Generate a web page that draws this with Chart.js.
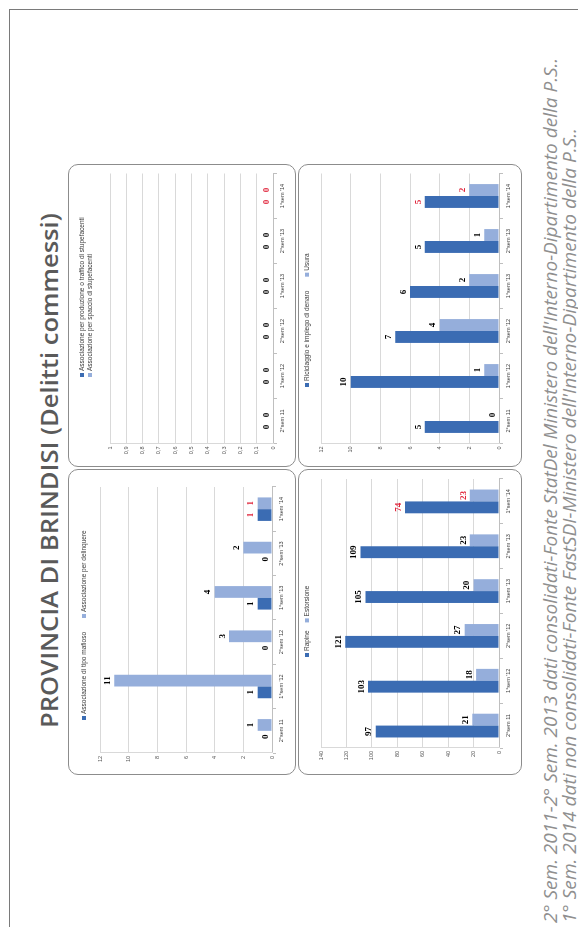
<!DOCTYPE html>
<html>
<head>
<meta charset="utf-8">
<title>Provincia di Brindisi - Delitti commessi</title>
<script src="https://cdn.jsdelivr.net/npm/chart.js"></script>
<style>
  html, body { margin: 0; padding: 0; background: #fff; overflow: hidden; }
  body { width: 578px; height: 927px; position: relative; }
  /* page is laid out landscape, then turned like the scanned sheet */
  #page { position: absolute; left: 0; top: 0; width: 927px; height: 578px;
          transform-origin: 0 0; transform: translate(0, 927px) rotate(-90deg); }
  .frame { position: absolute; left: 0; top: 9px; width: 917px; height: 600px;
           border-top: 1.5px solid #7a7a7a; border-right: 1.5px solid #7a7a7a; }
  .panel { position: absolute; }
  .panel canvas { position: absolute; left: 0; top: 0; }
  .panel .box { position: absolute; left: 0; top: 0; right: 0; bottom: 0; box-sizing: border-box;
                border: 1.5px solid #8c8c8c; border-radius: 10px; }
  .txt { position: absolute; white-space: nowrap; transform-origin: 0 0; line-height: 1; }
  #title { left: 199px; top: 33px; font: 600 23px 'Open Sans', sans-serif; color: #5a5a5a; }
  .note { left: 4px; font: italic 19px 'Open Sans', sans-serif; color: #8f8f8f; }
</style>
</head>
<body>
<div id="page">
  <div class="frame"></div>
  <div id="title" class="txt">PROVINCIA DI BRINDISI (Delitti commessi)</div>

  <div class="panel" style="left:152px; top:68px; width:306px; height:228px;">
    <canvas id="cMafia" width="306" height="228"></canvas><div class="box"></div>
  </div>
  <div class="panel" style="left:460px; top:68px; width:303px; height:228px;">
    <canvas id="cStup" width="303" height="228"></canvas><div class="box"></div>
  </div>
  <div class="panel" style="left:152px; top:298px; width:306px; height:224px;">
    <canvas id="cRap" width="306" height="224"></canvas><div class="box"></div>
  </div>
  <div class="panel" style="left:460px; top:298px; width:303px; height:224px;">
    <canvas id="cRic" width="303" height="224"></canvas><div class="box"></div>
  </div>

  <div id="note1" class="txt note" style="top:537px;">2° Sem. 2011-2° Sem. 2013 dati consolidati-Fonte StatDel Ministero dell'Interno-Dipartimento della P.S..</div>
  <div id="note2" class="txt note" style="top:556px;">1° Sem. 2014 dati non consolidati-Fonte FastSDI-Ministero dell'Interno-Dipartimento della P.S..</div>
</div>

<script>
  const categories = ["2°sem 11", "1°sem '12", "2°sem '12", "1°sem '13", "2°sem '13", "1°sem '14"];

  const mafiosoLabels = ['Associazione di tipo mafioso', 'Associazione per delinquere'];
  const mafioso = [0, 1, 0, 1, 0, 1];
  const delinquere = [1, 11, 3, 4, 2, 1];

  const stupLabels = ['Associazione per produzione o traffico di stupefacenti', 'Associazione per spaccio di stupefacenti'];
  const produzioneStup = [0, 0, 0, 0, 0, 0];
  const spaccioStup = [0, 0, 0, 0, 0, 0];

  const rapineLabels = ['Rapine', 'Estorsione'];
  const rapine = [97, 103, 121, 105, 109, 74];
  const estorsione = [21, 18, 27, 20, 23, 23];

  const ricLabels = ['Riciclaggio e impiego di denaro', 'Usura'];
  const riciclaggio = [5, 10, 7, 6, 5, 5];
  const usura = [0, 1, 4, 2, 1, 2];

  const mafiaTicks = { max: 12, step: 2 };
  const stupTicks = { max: 1, step: 0.1 };
  const rapTicks = { max: 140, step: 20 };
  const ricTicks = { max: 12, step: 2 };

  const DARK = '#3b6cb3';
  const LIGHT = '#95aedb';
  const FONT = "'Liberation Sans', Arial, sans-serif";

  // value written on top of every bar, last semester in red
  const barLabels = {
    id: 'barLabels',
    afterDatasetsDraw(chart) {
      const ctx = chart.ctx;
      const n = chart.data.labels.length;
      ctx.save();
      ctx.font = "bold 9px 'Liberation Serif', serif";
      ctx.textAlign = 'center';
      ctx.textBaseline = 'bottom';
      chart.data.datasets.forEach((ds, i) => {
        chart.getDatasetMeta(i).data.forEach((bar, j) => {
          ctx.fillStyle = j === n - 1 ? '#e0263c' : '#000';
          ctx.fillText(String(ds.data[j]), bar.x, bar.y - 2);
        });
      });
      ctx.restore();
    }
  };

  // small excel style legend
  const boxLegend = {
    id: 'boxLegend',
    afterDraw(chart, args, opts) {
      const ctx = chart.ctx;
      ctx.save();
      ctx.font = '6.5px ' + FONT;
      ctx.textBaseline = 'middle';
      ctx.textAlign = 'left';
      let x = opts.x, y = opts.y;
      chart.data.datasets.forEach(ds => {
        ctx.fillStyle = ds.backgroundColor;
        ctx.fillRect(x, y - 2, 4, 4);
        ctx.fillStyle = '#404040';
        ctx.fillText(ds.label, x + 6, y);
        if (opts.stacked) y += opts.lineGap;
        else x += 6 + ctx.measureText(ds.label).width + opts.gap;
      });
      ctx.restore();
    }
  };

  function makeChart(id, g, names, s1, s2, t, fmt) {
    const canvas = document.getElementById(id);
    const yw = 14, xh = 16;
    return new Chart(canvas, {
      type: 'bar',
      data: {
        labels: categories,
        datasets: [
          { label: names[0], data: s1, backgroundColor: DARK, borderWidth: 0, categoryPercentage: 0.53, barPercentage: 1 },
          { label: names[1], data: s2, backgroundColor: LIGHT, borderWidth: 0, categoryPercentage: 0.53, barPercentage: 1 }
        ]
      },
      options: {
        responsive: false,
        animation: false,
        devicePixelRatio: 1,
        layout: {
          padding: { left: g.l - yw, right: canvas.width - g.r, top: g.t, bottom: canvas.height - g.b - xh }
        },
        plugins: {
          legend: { display: false },
          tooltip: { enabled: false },
          boxLegend: g.legend
        },
        scales: {
          x: {
            grid: { display: true, drawOnChartArea: false, drawTicks: true, tickLength: 4, color: '#bfbfbf' },
            border: { color: '#bfbfbf', width: 1 },
            ticks: { font: { size: 5.5, family: FONT }, color: '#404040', padding: 2, maxRotation: 0, autoSkip: false },
            afterFit: s => { s.height = xh; }
          },
          y: {
            min: 0, max: t.max,
            ticks: { stepSize: t.step, font: { size: 5.5, family: FONT }, color: '#595959', padding: 3,
                     callback: fmt || (v => v) },
            grid: { color: '#d9d9d9', drawTicks: false },
            border: { display: true, color: '#d9d9d9' },
            afterFit: s => { s.width = yw; }
          }
        }
      },
      plugins: [barLabels, boxLegend]
    });
  }

  const decimal = v => (v === 0 || v === 1) ? String(v) : v.toFixed(1).replace('.', ',');

  makeChart('cMafia', { l: 22, r: 288, t: 32, b: 204, legend: { x: 55, y: 16, gap: 14 } },
            mafiosoLabels, mafioso, delinquere, mafiaTicks);
  makeChart('cStup', { l: 23.5, r: 293.5, t: 42, b: 205, legend: { x: 90, y: 14, stacked: true, lineGap: 8 } },
            stupLabels, produzioneStup, spaccioStup, stupTicks, decimal);
  makeChart('cRap', { l: 27, r: 296, t: 23, b: 201, legend: { x: 118, y: 9, gap: 8 } },
            rapineLabels, rapine, estorsione, rapTicks);
  makeChart('cRic', { l: 23.5, r: 293.5, t: 23, b: 201, legend: { x: 80, y: 9, gap: 14 } },
            ricLabels, riciclaggio, usura, ricTicks);

  function fitWidth(id, w) {
    const el = document.getElementById(id);
    el.style.transform = 'scaleX(' + (w / el.offsetWidth) + ')';
  }
  fitWidth('title', 515);
  fitWidth('note1', 865);
  fitWidth('note2', 795);
</script>
</body>
</html>
